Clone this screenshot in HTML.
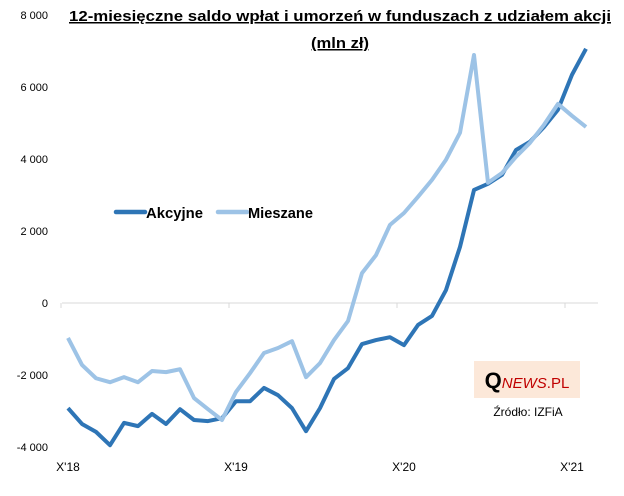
<!DOCTYPE html>
<html><head><meta charset="utf-8"><style>
body{margin:0;background:#fff;font-family:"Liberation Sans",sans-serif}
svg text{font-family:"Liberation Sans","DejaVu Sans",sans-serif}
</style></head><body>
<svg width="624" height="491" viewBox="0 0 624 491">
<text x="340" y="21" text-anchor="middle" font-size="15" font-weight="bold" text-decoration="underline" textLength="542" lengthAdjust="spacingAndGlyphs">12-miesięczne saldo wpłat i umorzeń w funduszach z udziałem akcji</text>
<text x="340" y="48" text-anchor="middle" font-size="15" font-weight="bold" text-decoration="underline" textLength="58" lengthAdjust="spacingAndGlyphs">(mln zł)</text>
<g id="yaxis"></g><g id="xaxis"></g><g id="series"></g>
<g>
<line x1="116" y1="212" x2="145" y2="212" stroke="#2e75b6" stroke-width="4.5" stroke-linecap="round"/>
<text x="146" y="218" font-size="15" font-weight="bold" textLength="57" lengthAdjust="spacingAndGlyphs">Akcyjne</text>
<line x1="218" y1="212" x2="247" y2="212" stroke="#9dc3e6" stroke-width="4.5" stroke-linecap="round"/>
<text x="248" y="218" font-size="15" font-weight="bold" textLength="65" lengthAdjust="spacingAndGlyphs">Mieszane</text>
</g>
<rect x="474" y="361" width="106" height="37" fill="#fce8d9"/>
<text x="527" y="388" text-anchor="middle" font-family="Liberation Serif,serif" fill="#c00000"><tspan font-size="22" font-weight="bold" fill="#000">Q</tspan><tspan font-size="15" font-style="italic">NEWS</tspan><tspan font-size="15">.PL</tspan></text>
<text x="528" y="416" text-anchor="middle" font-size="12">Źródło: IZFiA</text>
</svg>
<script>
const xLabels=["X'18","X'19","X'20","X'21"];
const xLabelIdx=[0,12,24,36];
const yTicks=[-4000,-2000,0,2000,4000,6000,8000];
const akcyjne=[-2920,-3360,-3580,-3950,-3330,-3420,-3080,-3360,-2950,-3250,-3280,-3200,-2730,-2730,-2360,-2560,-2920,-3560,-2920,-2110,-1810,-1140,-1030,-950,-1170,-610,-360,360,1560,3140,3310,3560,4250,4480,4890,5370,6340,7060];
const mieszane=[-970,-1720,-2090,-2200,-2060,-2200,-1890,-1920,-1840,-2640,-2950,-3250,-2470,-1950,-1390,-1250,-1060,-2060,-1670,-1030,-500,830,1330,2170,2500,2950,3420,3980,4730,6890,3340,3610,4060,4450,4950,5530,5200,4890];
const NS="http://www.w3.org/2000/svg";
const X=i=>68+i*14.0;
const Y=v=>303-v*0.0360;
function mk(t,a,p){const e=document.createElementNS(NS,t);for(const k in a)e.setAttribute(k,a[k]);p.appendChild(e);return e;}
const ya=document.getElementById('yaxis');
yTicks.forEach(v=>{const t=mk('text',{x:48,y:Y(v)+4,'text-anchor':'end','font-size':11},ya);t.textContent=v===0?'0':(v<0?'-':'')+Math.abs(v).toLocaleString('en').replace(',',' ');

});
const xa=document.getElementById('xaxis');
const ax=mk('line',{x1:62,y1:303,x2:598,y2:303,stroke:'#d9d9d9','stroke-width':1},xa);


for(let i=-0.5;i<38;i+=12){const tk=mk('line',{x1:X(i),y1:303,x2:X(i),y2:308,stroke:'#d9d9d9'},xa);

}
xLabels.forEach((l,k)=>{const t=mk('text',{x:X(xLabelIdx[k]),y:471,'text-anchor':'middle','font-size':12},xa);t.textContent=l;

});
const sg=document.getElementById('series');
function line(d,c,n){const p=mk('polyline',{points:d.map((v,i)=>X(i)+','+Y(v)).join(' '),fill:'none',stroke:c,'stroke-width':4,'stroke-linejoin':'round'},sg);

}
line(akcyjne,'#2e75b6','akcyjne-line');
line(mieszane,'#9dc3e6','mieszane-line');
</script>
</body></html>
